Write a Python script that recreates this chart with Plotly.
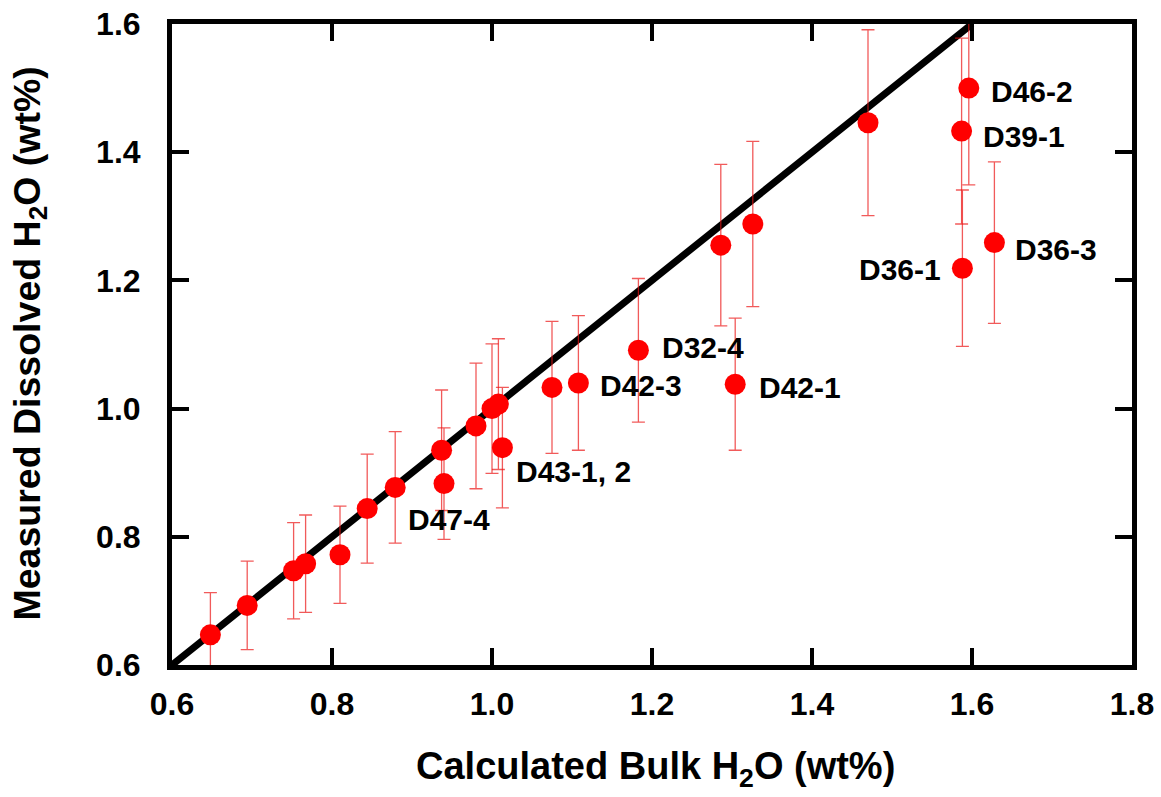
import plotly.graph_objects as go

# ---- data ----
calc_h2o = [0.648, 0.694, 0.752, 0.767, 0.810, 0.844, 0.879, 0.937, 0.940, 0.980,
            1.000, 1.008, 1.013, 1.075, 1.108, 1.183, 1.304, 1.286, 1.326, 1.470,
            1.596, 1.587, 1.588, 1.628]
meas_h2o = [0.647, 0.693, 0.747, 0.758, 0.772, 0.844, 0.877, 0.935, 0.883, 0.973,
            1.000, 1.007, 0.939, 1.033, 1.040, 1.091, 1.038, 1.255, 1.288, 1.446,
            1.500, 1.433, 1.219, 1.259]
meas_err = [0.066, 0.069, 0.075, 0.076, 0.076, 0.085, 0.087, 0.094, 0.087, 0.098,
            0.101, 0.102, 0.094, 0.103, 0.105, 0.112, 0.103, 0.126, 0.129, 0.145,
            0.151, 0.145, 0.122, 0.126]
point_labels = ["", "", "", "", "", "", "", "", "D47-4", "",
                "", "", "D43-1, 2", "", "D42-3", "D32-4", "D42-1", "", "", "",
                "D46-2", "D39-1", "D36-1", "D36-3"]
line_x = [0.6, 1.6]
x_ticks = [0.6, 0.8, 1.0, 1.2, 1.4, 1.6, 1.8]
y_ticks = [0.6, 0.8, 1.0, 1.2, 1.4, 1.6]

# label placement (pixel offsets from their point) -- style only
label_style = {
    "D47-4": dict(xanchor="center", xshift=5, yshift=-36),
    "D43-1, 2": dict(xanchor="left", xshift=12, yshift=-24),
    "D42-3": dict(xanchor="left", xshift=20, yshift=-3),
    "D32-4": dict(xanchor="left", xshift=22, yshift=3),
    "D42-1": dict(xanchor="left", xshift=22, yshift=-3),
    "D46-2": dict(xanchor="left", xshift=20, yshift=-3),
    "D39-1": dict(xanchor="left", xshift=19, yshift=-5),
    "D36-1": dict(xanchor="right", xshift=-19, yshift=-1),
    "D36-3": dict(xanchor="left", xshift=19, yshift=-7),
}

FONT = "Liberation Sans, Arial, sans-serif"

fig = go.Figure()
fig.add_trace(go.Scatter(
    x=line_x, y=line_x, mode="lines",
    line=dict(color="black", width=7), showlegend=False, hoverinfo="skip"))
fig.add_trace(go.Scatter(
    x=calc_h2o, y=meas_h2o, mode="markers",
    marker=dict(color="#ff0000", size=21, line=dict(width=0)),
    error_y=dict(type="data", array=meas_err, visible=True,
                 color="rgba(235,20,20,0.7)", thickness=1.3, width=6.5),
    showlegend=False))

for xv, yv, lab in zip(calc_h2o, meas_h2o, point_labels):
    if lab:
        st = label_style[lab]
        fig.add_annotation(x=xv, y=yv, text=lab, showarrow=False,
                           xanchor=st["xanchor"], yanchor="middle",
                           xshift=st["xshift"], yshift=st["yshift"],
                           font=dict(family=FONT, size=30, color="black", weight="bold"))

axis_common = dict(
    showline=True, linecolor="black", linewidth=5, mirror="ticks",
    ticks="inside", ticklen=17, tickwidth=4, tickcolor="black",
    showgrid=False, zeroline=False,
    tickfont=dict(family=FONT, size=32, color="black", weight="bold"),
)
fig.update_xaxes(range=[0.6, 1.8], tickvals=x_ticks,
                 ticktext=[f"{v:.1f}" for v in x_ticks],
                 ticklabelstandoff=7, **axis_common)
fig.update_yaxes(range=[0.6, 1.6], tickvals=y_ticks,
                 ticktext=[f"{v:.1f}" for v in y_ticks],
                 ticklabelstandoff=20, **axis_common)

fig.add_annotation(xref="paper", yref="paper", x=0.5, y=0, yanchor="middle",
                   xshift=3, yshift=-104, showarrow=False,
                   text="Calculated Bulk H<sub>2</sub>O (wt%)",
                   font=dict(family=FONT, size=38, color="black", weight="bold"))
fig.add_annotation(xref="paper", yref="paper", x=0, y=0.5, xanchor="center",
                   xshift=-143, yshift=1, showarrow=False, textangle=-90,
                   text="Measured Dissolved H<sub>2</sub>O (wt%)",
                   font=dict(family=FONT, size=37.5, color="black", weight="bold"))

fig.update_layout(
    width=1161, height=797,
    margin=dict(l=172, r=29, t=24, b=132, autoexpand=False),
    paper_bgcolor="white", plot_bgcolor="white",
)

fig.write_html("out.html")
